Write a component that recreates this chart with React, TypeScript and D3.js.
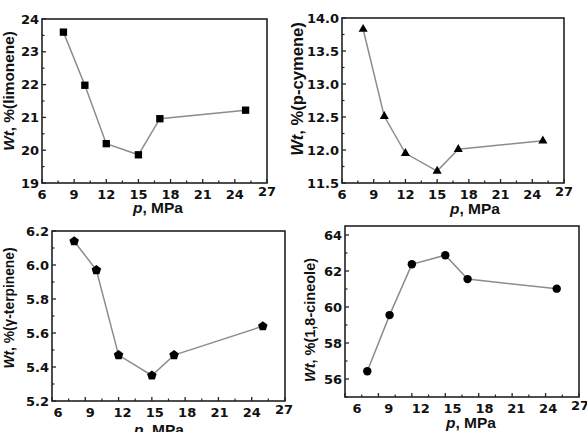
import React from "react";
import * as d3 from "d3";

const pressure = [8, 10, 12, 15, 17, 25];
const limonene = [23.6, 21.98, 20.2, 19.86, 20.96, 21.22];
const pCymene = [13.83, 12.51, 11.95, 11.68, 12.01, 12.14];
const gTerpinene = [6.14, 5.97, 5.47, 5.35, 5.47, 5.64];
const cineole = [56.43, 59.55, 62.37, 62.88, 61.55, 61.02];

const xTicks = [6, 9, 12, 15, 18, 21, 24, 27];
const limoneneTicks = [19, 20, 21, 22, 23, 24];
const cymeneTicks = [11.5, 12.0, 12.5, 13.0, 13.5, 14.0];
const terpineneTicks = [5.2, 5.4, 5.6, 5.8, 6.0, 6.2];
const cineoleTicks = [56, 58, 60, 62, 64];

const compounds = ["limonene", "p-cymene", "γ-terpinene", "1,8-cineole"];

const pentagon = {
  draw(ctx: any, size: number) {
    const r = Math.sqrt(size / 2.3776);
    for (let i = 0; i < 5; i++) {
      const a = -Math.PI / 2 + (i * 2 * Math.PI) / 5;
      const px = r * Math.cos(a);
      const py = r * Math.sin(a);
      if (i === 0) ctx.moveTo(px, py);
      else ctx.lineTo(px, py);
    }
    ctx.closePath();
  },
};

type Panel = {
  name: string;
  values: number[];
  box: [number, number, number, number]; // left, right, top, bottom
  yDomain: [number, number];
  yTicks: number[];
  yMinor: number;
  yFmt: (v: number) => string;
  symbol: any;
  symSize: number;
  titleSize: number;
  yTitle: [number, number];
  xTitle: [number, number];
  labelRange?: [number, number];
};

const panels: Panel[] = [
  {
    name: compounds[0], values: limonene, box: [42, 267, 19, 183], yDomain: [19, 24],
    yTicks: limoneneTicks, yMinor: 0.5, yFmt: d3.format("d"), symbol: d3.symbolSquare, symSize: 54,
    titleSize: 15.4, yTitle: [9, 91], xTitle: [158, 213],
  },
  {
    name: compounds[1], values: pCymene, box: [342, 564, 18, 183], yDomain: [11.5, 14],
    yTicks: cymeneTicks, yMinor: 0.25, yFmt: d3.format(".1f"), symbol: d3.symbolTriangle, symSize: 36,
    titleSize: 16.6, yTitle: [297, 89], xTitle: [475, 214],
  },
  {
    name: compounds[2], values: gTerpinene, box: [52, 285, 231, 401], yDomain: [5.2, 6.2],
    yTicks: terpineneTicks, yMinor: 0.1, yFmt: d3.format(".1f"), symbol: pentagon, symSize: 60,
    titleSize: 13.8, yTitle: [9, 308], xTitle: [159, 435], labelRange: [58, 284],
  },
  {
    name: compounds[3], values: cineole, box: [345, 579, 226, 397], yDomain: [55, 64.5],
    yTicks: cineoleTicks, yMinor: 1, yFmt: d3.format("d"), symbol: d3.symbolCircle, symSize: 56,
    titleSize: 14.5, yTitle: [310, 320], xTitle: [471, 428], labelRange: [357, 580],
  },
];

const titleFont = "'Liberation Sans', Arial, sans-serif";
const tickFont = "'DejaVu Sans', sans-serif";

function ChartPanel({ p }: { p: Panel }) {
  const [l, r, t, b] = p.box;
  const x = d3.scaleLinear().domain([6, 27]).range([l, r]);
  const xl = p.labelRange ? d3.scaleLinear().domain([6, 27]).range(p.labelRange) : x;
  const y = d3.scaleLinear().domain(p.yDomain).range([b, t]);
  const line = d3
    .line<number>()
    .x((_, i) => x(pressure[i]))
    .y((v) => y(v));
  const sym = d3.symbol().type(p.symbol).size(p.symSize);
  const xMinor = d3.range(7.5, 27, 3);
  const yMinor = d3
    .range(p.yDomain[0], p.yDomain[1] + 1e-9, p.yMinor)
    .filter((v) => !p.yTicks.some((tk) => Math.abs(tk - v) < 1e-6));
  return (
    <g>
      <path d={line(p.values) || ""} fill="none" stroke="#8c8c8c" strokeWidth={1.5} />
      {p.values.map((v, i) => (
        <path key={i} d={sym() || ""} transform={`translate(${x(pressure[i])},${y(v)})`} fill="#000" />
      ))}
      <rect x={l} y={t} width={r - l} height={b - t} fill="none" stroke="#222" strokeWidth={1.6} />
      {xTicks.map((v) => (
        <line key={"xt" + v} x1={x(v)} x2={x(v)} y1={b} y2={b - 4} stroke="#222" strokeWidth={1.3} />
      ))}
      {xMinor.map((v) => (
        <line key={"xm" + v} x1={x(v)} x2={x(v)} y1={b} y2={b - 2.5} stroke="#222" strokeWidth={1.2} />
      ))}
      {p.yTicks.map((v) => (
        <line key={"yt" + v} x1={l} x2={l + 4} y1={y(v)} y2={y(v)} stroke="#222" strokeWidth={1.3} />
      ))}
      {yMinor.map((v) => (
        <line key={"ym" + v} x1={l} x2={l + 2.5} y1={y(v)} y2={y(v)} stroke="#222" strokeWidth={1.2} />
      ))}
      {xTicks.map((v, i) => (
        <text
          key={"xl" + v}
          x={xl(v)}
          y={b + 16 - (i === xTicks.length - 1 ? 3 : 0)}
          textAnchor="middle"
          fontFamily={tickFont}
          fontWeight="bold"
          fontSize={13}
          fill="#111"
        >
          {v}
        </text>
      ))}
      {p.yTicks.map((v) => (
        <text
          key={"yl" + v}
          x={l - 3}
          y={y(v)}
          dy="0.36em"
          textAnchor="end"
          fontFamily={tickFont}
          fontWeight="bold"
          fontSize={13}
          fill="#111"
        >
          {p.yFmt(v)}
        </text>
      ))}
      <text
        transform={`translate(${p.yTitle[0]},${p.yTitle[1]}) rotate(-90)`}
        textAnchor="middle"
        dy="0.35em"
        fontFamily={titleFont}
        fontWeight="bold"
        fontSize={p.titleSize}
        fill="#111"
      >
        <tspan fontStyle="italic">Wt</tspan>
        <tspan>{`, %(${p.name})`}</tspan>
      </text>
      <text
        x={p.xTitle[0]}
        y={p.xTitle[1]}
        textAnchor="middle"
        fontFamily={titleFont}
        fontWeight="bold"
        fontSize={15.5}
        fill="#111"
      >
        <tspan fontStyle="italic">p</tspan>
        <tspan>, MPa</tspan>
      </text>
    </g>
  );
}

export default function App() {
  return (
    <div style={{ position: "absolute", left: 0, top: 0 }}>
      <svg width={587} height={432} style={{ display: "block", background: "#fff" }}>
        {panels.map((p, i) => (
          <ChartPanel key={i} p={p} />
        ))}
      </svg>
    </div>
  );
}
